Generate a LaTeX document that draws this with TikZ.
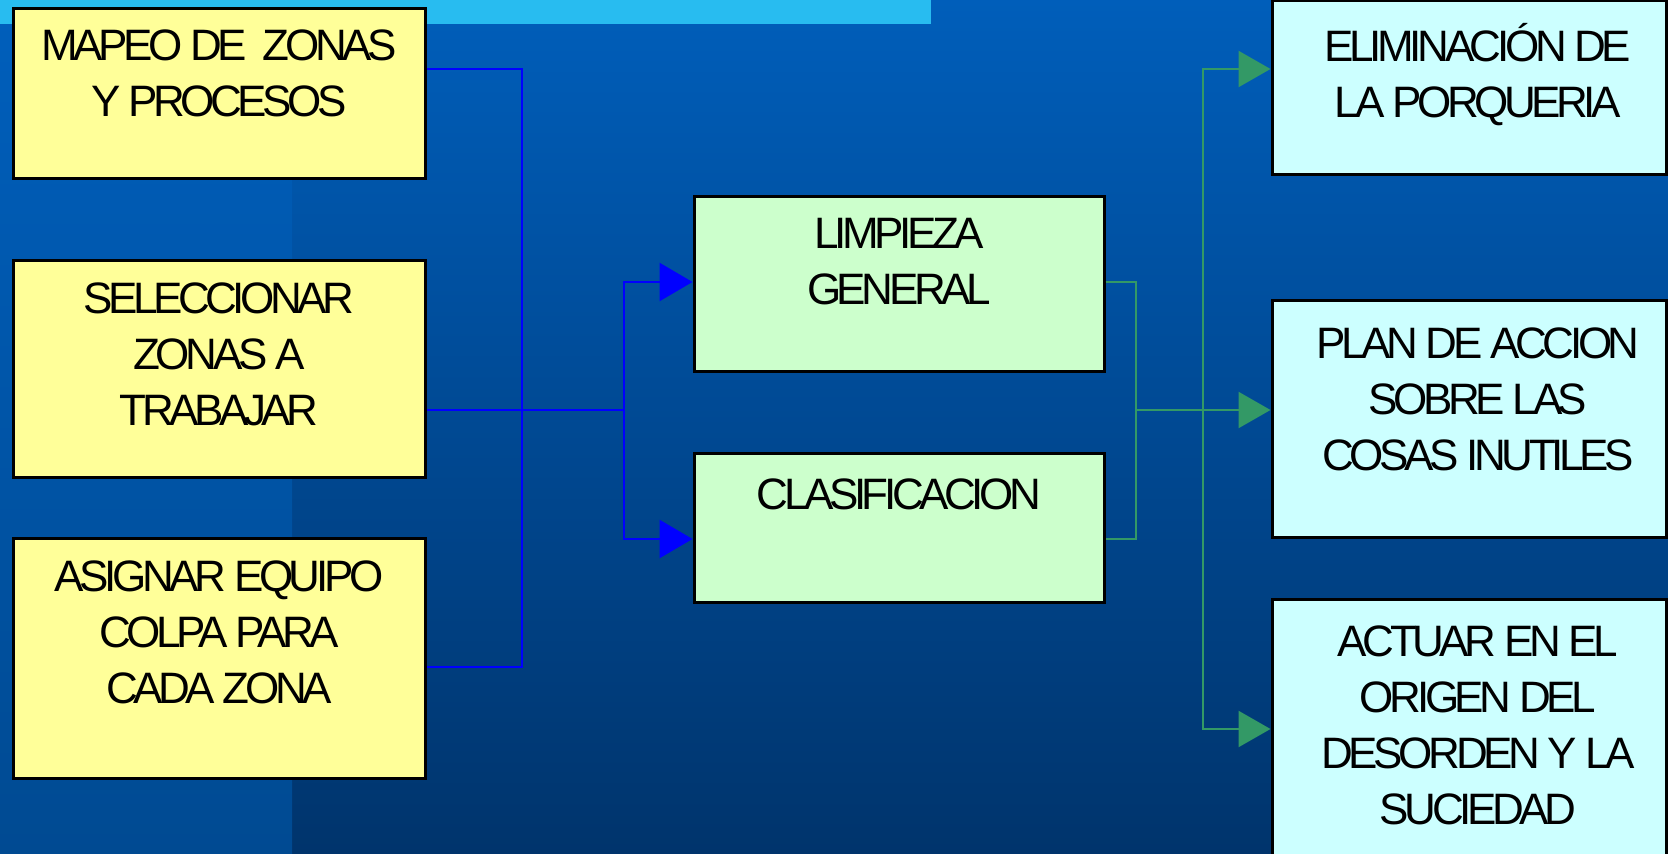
\documentclass[tikz,border=0pt]{standalone}
\usepackage{xcolor}
\usepackage{fontspec}
\usepackage{tikz}
\usetikzlibrary{arrows.meta}

\newfontfamily\boxfont{Liberation Sans}[LetterSpace=-10]
\newcommand{\boxtext}[4]{\parbox[c][#2][t]{#1}{\boxfont\fontsize{22pt}{28pt}\selectfont\centering\vspace*{#3}#4}}

\definecolor{bgtop}{RGB}{0,94,186}
\definecolor{bgbot}{RGB}{0,52,108}
\definecolor{striptop}{RGB}{0,95,188}
\definecolor{stripbot}{RGB}{0,74,146}
\definecolor{band}{RGB}{40,188,240}
\definecolor{boxyellow}{RGB}{255,255,153}
\definecolor{boxgreen}{RGB}{204,255,204}
\definecolor{boxcyan}{RGB}{204,255,255}
\definecolor{linkgreen}{RGB}{51,153,102}

\begin{document}
\begin{tikzpicture}[x=0.5pt,y=-0.5pt,
  ybox/.style={shape=rectangle,draw=black,line width=1.5pt,fill=boxyellow,inner sep=0pt},
  gbox/.style={ybox,fill=boxgreen},
  cbox/.style={ybox,fill=boxcyan},
  bline/.style={draw=blue,line width=1.3pt},
  barrow/.style={bline,-{Triangle[length=16.5pt,width=19pt]}},
  gline/.style={draw=linkgreen,line width=1.2pt},
  garrow/.style={gline,-{Triangle[length=16pt,width=18pt]}}]
\useasboundingbox (0,0) rectangle (1668,854);
% background
\shade[top color=bgtop,bottom color=bgbot] (0,0) rectangle (1668,854);
\shade[top color=striptop,bottom color=stripbot] (0,0) rectangle (292,854);
\fill[band] (0,0) rectangle (931,24);

% left column
\node[ybox] (map) at (219,93.75) {\boxtext{206pt}{85.25pt}{10.75pt}{MAPEO DE\ \ ZONAS\\Y PROCESOS}};
\node[ybox] (sel) at (219,369.5) {\boxtext{206pt}{108.5pt}{10.75pt}{SELECCIONAR\\ZONAS A\\TRABAJAR}};
\node[ybox] (asg) at (219,658.5) {\boxtext{206pt}{119.5pt}{10.75pt}{ASIGNAR EQUIPO\\COLPA PARA\\CADA ZONA}};

% middle column
\node[gbox] (lim) at (899,284.5) {\boxtext{205pt}{87.5pt}{10.75pt}{LIMPIEZA\\GENERAL}};
\node[gbox] (cls) at (899,528) {\boxtext{205pt}{74pt}{12.5pt}{CLASIFICACION}};

% right column
\node[cbox] (eli) at (1469,88) {\boxtext{197pt}{87pt}{11.25pt}{\leftskip=9pt plus 1fil ELIMINACIÓN DE\\LA PORQUERIA}};
\node[cbox] (pla) at (1469,419.5) {\boxtext{197pt}{118.5pt}{13.25pt}{\leftskip=9pt plus 1fil PLAN DE ACCION\\SOBRE LAS\\COSAS INUTILES}};
\node[cbox] (act) at (1469,739.5) {\boxtext{197pt}{140.5pt}{13.25pt}{\leftskip=9pt plus 1fil ACTUAR EN EL\\ORIGEN DEL\\DESORDEN Y LA\\SUCIEDAD}};

% blue links
\coordinate (bsplit) at (624,410);
\draw[bline] (map.east |- 0,69) -- (522,69) |- (asg.east |- 0,667);
\draw[bline] (sel.east |- 0,410) -- (bsplit);
\draw[barrow] (bsplit) |- (lim.west |- 0,282);
\draw[barrow] (bsplit) |- (cls.west |- 0,539);

% green links
\coordinate (gjoin) at (1136,410);
\coordinate (gsplit) at (1203,410);
\draw[gline] (lim.east |- 0,282) -| (1136,539) -- (cls.east |- 0,539);
\draw[garrow] (gjoin) -- (pla.west |- 0,410);
\draw[garrow] (gsplit) |- (eli.west |- 0,69);
\draw[garrow] (gsplit) |- (act.west |- 0,729);
\end{tikzpicture}
\end{document}
